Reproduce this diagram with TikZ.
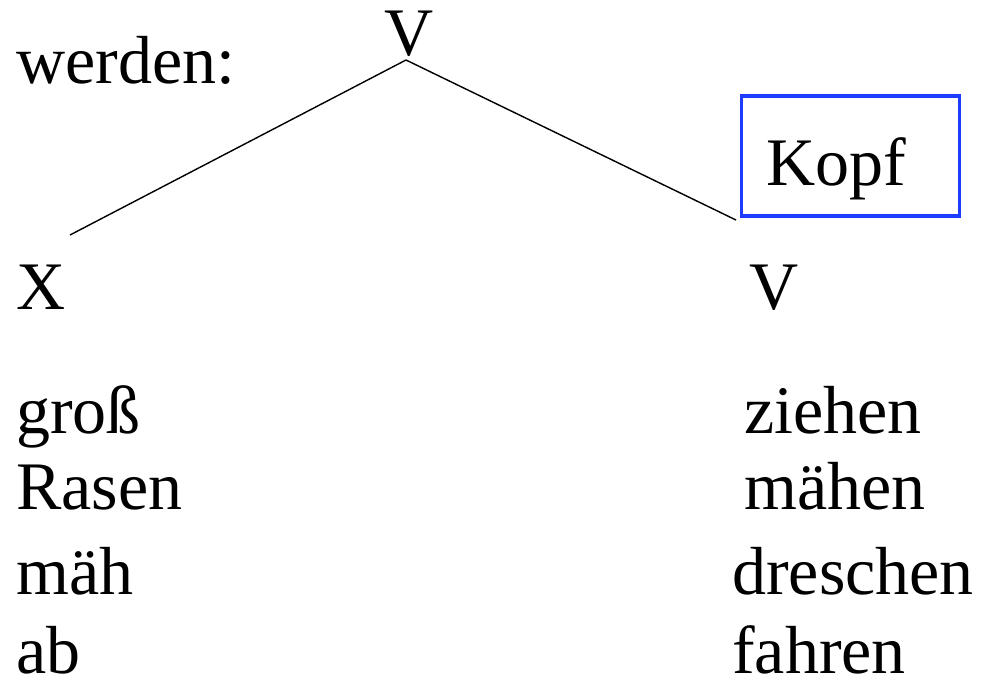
\documentclass[tikz,border=0pt]{standalone}
\usepackage{fontspec}
\setmainfont{Liberation Serif}
\begin{document}
\begin{tikzpicture}[x=1pt,y=-1pt,
  lbl/.style={anchor=base west,inner sep=0pt,font=\fontsize{68}{80}\selectfont},
  edge/.style={line width=1.4pt,black},
  headbox/.style={draw={rgb,255:red,30;green,60;blue,255},line width=3.5pt}]
\useasboundingbox (0,0) rectangle (983,681);
\node[lbl] (werden) at (16,83) {werden:};
\node[lbl] (vtop) at (384,55) {V};
\node[lbl] (x) at (16,309) {X};
\node[lbl] (v) at (749,309) {V};
\coordinate (apex) at (406,60);
\coordinate (lend) at (70,235);
\coordinate (rend) at (736,220);
\draw[edge] (apex) -- (lend);
\draw[edge] (apex) -- (rend);
\node[headbox,minimum width=218pt,minimum height=120pt,inner sep=0pt] (box) at (850.5,156) {};
\node[lbl] (kopf) at (766,185) {Kopf};
\node[lbl] (l1) at (16,433) {groß};
\node[lbl] (l2) at (16,509) {Rasen};
\node[lbl] (l3) at (16,594) {mäh};
\node[lbl] (l4) at (16,673) {ab};
\node[lbl] (r1) at (744,433) {ziehen};
\node[lbl] (r2) at (744,509) {mähen};
\node[lbl] (r3) at (732,594) {dreschen};
\node[lbl] (r4) at (732,673) {fahren};
\end{tikzpicture}
\end{document}
